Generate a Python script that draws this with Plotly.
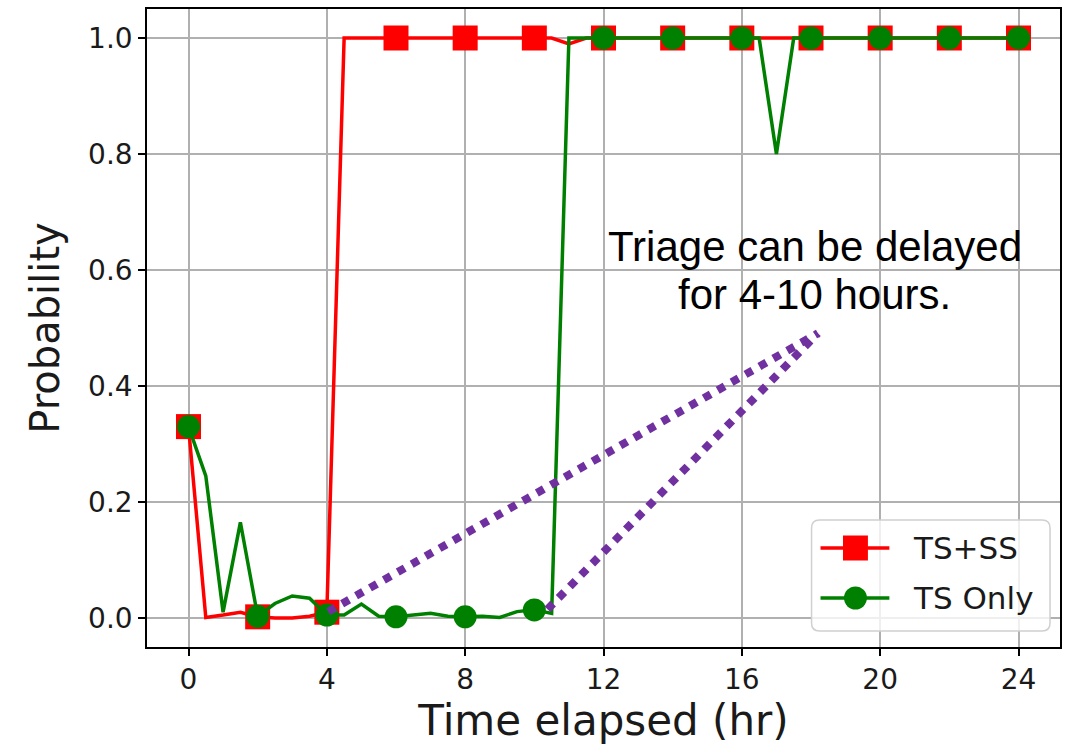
import plotly.graph_objects as go

# ---- data ----
hours = [i * 0.5 for i in range(49)]
ts_ss = [0.33, 0.001, 0.005, 0.01, 0.002, 0.0, 0.0, 0.003, 0.01,
         1.0, 1.0, 1.0, 1.0, 1.0, 1.0, 1.0, 1.0, 1.0, 1.0, 1.0, 1.0, 1.0,
         0.99,
         1.0, 1.0, 1.0, 1.0, 1.0, 1.0, 1.0, 1.0, 1.0, 1.0, 1.0, 1.0, 1.0,
         1.0, 1.0, 1.0, 1.0, 1.0, 1.0, 1.0, 1.0, 1.0, 1.0, 1.0, 1.0, 1.0]
ts_only = [0.33, 0.245, 0.01, 0.165, 0.003, 0.025, 0.038, 0.034, 0.005,
           0.005, 0.024, 0.003, 0.002, 0.005, 0.008, 0.003, 0.002, 0.003,
           0.001, 0.011, 0.014, 0.008,
           1.0, 1.0, 1.0, 1.0, 1.0, 1.0, 1.0, 1.0, 1.0, 1.0, 1.0, 1.0,
           0.80,
           1.0, 1.0, 1.0, 1.0, 1.0, 1.0, 1.0, 1.0, 1.0, 1.0, 1.0, 1.0, 1.0, 1.0]
mark_every = 4
x_ticks = [0, 4, 8, 12, 16, 20, 24]
y_ticks = [0.0, 0.2, 0.4, 0.6, 0.8, 1.0]
delay_x1 = [4.04, 18.2]
delay_y1 = [0.011, 0.491]
delay_x2 = [10.38, 18.2]
delay_y2 = [0.015, 0.491]
series_names = ["TS+SS", "TS Only"]
note_lines = ["Triage can be delayed", "for 4-10 hours."]

RED = "#ff0000"
GREEN = "#008000"
PURPLE = "#7030A0"

fig = go.Figure()
fig.add_trace(go.Scatter(x=hours, y=ts_ss, mode="lines",
                         line=dict(color=RED, width=3.5), showlegend=False))
fig.add_trace(go.Scatter(x=hours[::mark_every], y=ts_ss[::mark_every], mode="markers",
                         marker=dict(symbol="square", size=25, color=RED), showlegend=False))
fig.add_trace(go.Scatter(x=hours, y=ts_only, mode="lines",
                         line=dict(color=GREEN, width=3.5), showlegend=False))
fig.add_trace(go.Scatter(x=hours[::mark_every], y=ts_only[::mark_every], mode="markers",
                         marker=dict(symbol="circle", size=23, color=GREEN), showlegend=False))
for xs, ys in ((delay_x1, delay_y1), (delay_x2, delay_y2)):
    fig.add_trace(go.Scatter(x=xs, y=ys, mode="lines",
                             line=dict(color=PURPLE, width=8, dash="8px,8px"),
                             showlegend=False))

# pixel helpers for plot-area (paper) coordinates
L, R, T, B = 147, 1062, 9, 647
def px(v):
    return (v - L) / (R - L)
def py(v):
    return (B - v) / (B - T)

shapes = []
# white box behind annotation (covers grid)
shapes.append(dict(type="rect", xref="x", yref="y", x0=11.1, x1=24.7, y0=0.495, y1=0.72,
                   fillcolor="white", line=dict(width=0), layer="below"))
# manual legend box with rounded corners
bx0, bx1, by0, by1, r = 813, 1052, 520, 631, 8
def P(xp, yp):
    return f"{px(xp):.5f},{py(yp):.5f}"
path = (f"M {P(bx0 + r, by0)} L {P(bx1 - r, by0)} Q {P(bx1, by0)} {P(bx1, by0 + r)} "
        f"L {P(bx1, by1 - r)} Q {P(bx1, by1)} {P(bx1 - r, by1)} "
        f"L {P(bx0 + r, by1)} Q {P(bx0, by1)} {P(bx0, by1 - r)} "
        f"L {P(bx0, by0 + r)} Q {P(bx0, by0)} {P(bx0 + r, by0)} Z")
shapes.append(dict(type="path", xref="paper", yref="paper", path=path,
                   fillcolor="rgba(255,255,255,0.8)", line=dict(color="#d0d0d0", width=1.5)))
# legend keys
for yy, col, sym in ((548, RED, "square"), (598, GREEN, "circle")):
    shapes.append(dict(type="line", xref="paper", yref="paper", x0=px(822), x1=px(891),
                       y0=py(yy), y1=py(yy), line=dict(color=col, width=3.5)))
    if sym == "square":
        shapes.append(dict(type="rect", xref="paper", yref="paper",
                           x0=px(857 - 12.5), x1=px(857 + 12.5), y0=py(yy + 12.5), y1=py(yy - 12.5),
                           fillcolor=col, line=dict(width=0)))
    else:
        shapes.append(dict(type="circle", xref="paper", yref="paper",
                           x0=px(857 - 11.5), x1=px(857 + 11.5), y0=py(yy + 11.5), y1=py(yy - 11.5),
                           fillcolor=col, line=dict(width=0)))

annotations = []
for yy, name in zip((548, 598), series_names):
    annotations.append(dict(xref="paper", yref="paper", x=px(913), y=py(yy), text=name,
                            showarrow=False, xanchor="left", yanchor="middle",
                            font=dict(family="DejaVu Sans", size=31, color="#1a1a1a")))
for yy, line in zip((247, 294), note_lines):
    annotations.append(dict(xref="paper", yref="paper", x=px(816), y=py(yy), text=line,
                            showarrow=False, xanchor="center", yanchor="middle",
                            font=dict(family="Arial, Liberation Sans", size=42, color="black")))

axis_common = dict(showline=True, linecolor="black", linewidth=1.5, mirror=True,
                   ticks="outside", ticklen=7, tickwidth=1.5, tickcolor="black",
                   showgrid=True, gridcolor="#b0b0b0", gridwidth=1.6, zeroline=False,
                   tickfont=dict(family="DejaVu Sans", size=28, color="#1a1a1a"))

fig.update_layout(
    width=1068, height=748,
    margin=dict(l=L, r=1068 - R, t=T, b=748 - B),
    paper_bgcolor="white", plot_bgcolor="white",
    showlegend=False,
    shapes=shapes, annotations=annotations,
    xaxis=dict(range=[-1.2, 25.2], tickvals=x_ticks, ticktext=[str(v) for v in x_ticks],
               title=dict(text="Time elapsed (hr)", standoff=8,
                          font=dict(family="DejaVu Sans", size=42, color="#1a1a1a")),
               **axis_common),
    yaxis=dict(range=[-0.05, 1.05], tickvals=y_ticks, ticktext=[f"{v:.1f}" for v in y_ticks],
               title=dict(text="Probability", standoff=16,
                          font=dict(family="DejaVu Sans", size=40, color="#1a1a1a")),
               **axis_common),
)

fig.write_html("out.html")
